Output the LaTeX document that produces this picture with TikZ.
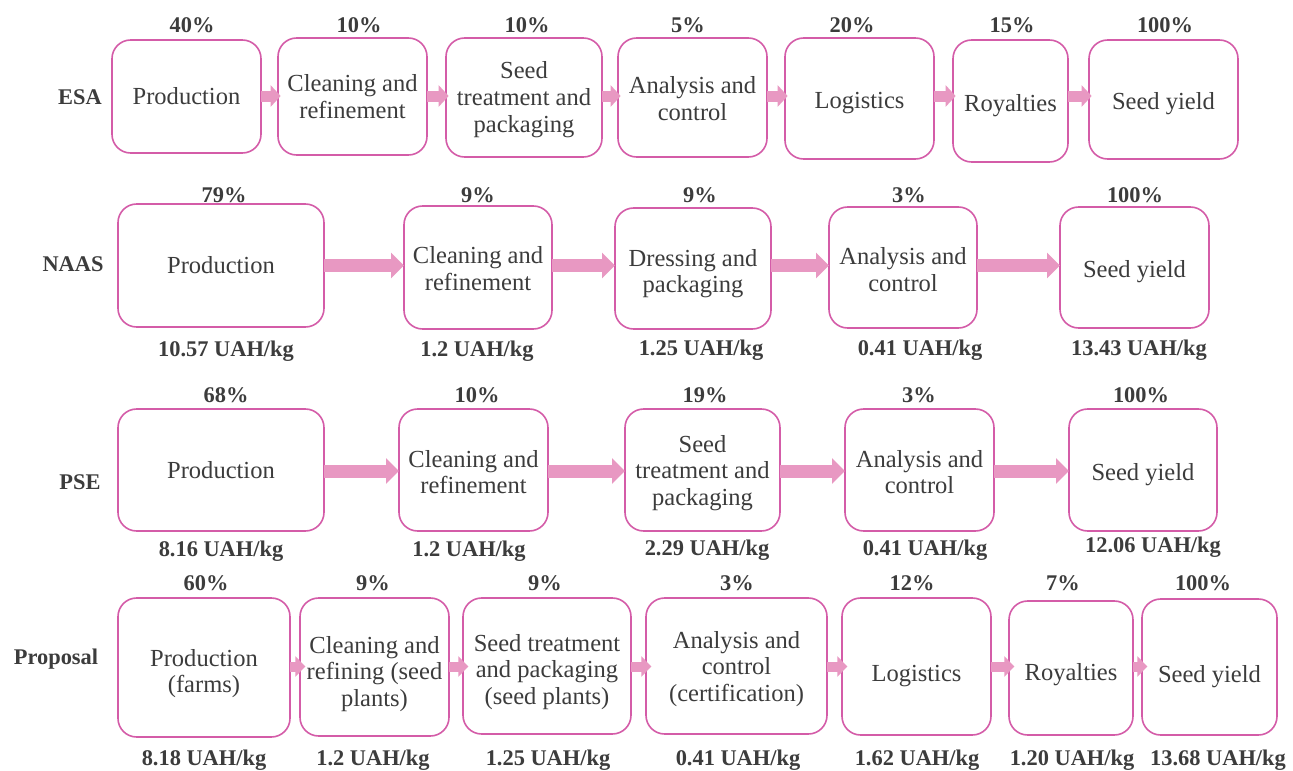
\documentclass[tikz,border=0pt]{standalone}
\usepackage{fontspec}
\setmainfont{Liberation Serif}
\usetikzlibrary{arrows.meta}
\definecolor{bord}{RGB}{212,92,168}
\definecolor{arrc}{RGB}{232,152,194}
\definecolor{txt}{RGB}{60,60,60}
% #1 name, #2-#5 box corners (px), #6 text, #7 downward text offset (px)
\newcommand\bx[7]{%
  \node[stagebox, minimum width={(#4-#2)*0.75pt}, minimum height={(#5-#3)*0.75pt}] (#1) at ({(#2+#4)/2},{(#3+#5)/2}) {};
  \node[stagetext] (#1t) at ([yshift={-(#7)*0.75pt}]#1.center) {#6};}
\tikzset{
  stagebox/.style={draw=bord, line width=1.2pt, rounded corners=14pt, inner sep=0pt, outer sep=0pt},
  stagetext/.style={inner sep=0pt, align=center, text=txt, font=\fontsize{18.4}{20}\selectfont},
  lab/.style={text=txt, font=\fontsize{16.8}{18}\selectfont\bfseries, inner sep=0pt},
  arrS/.style={draw=arrc, line width=8.25pt, -{Triangle[length=7.5pt,width=15.75pt]}, shorten >=-2pt},
  arrL/.style={draw=arrc, line width=9.75pt, -{Triangle[length=9.75pt,width=18.75pt]}},
  arrP/.style={draw=arrc, line width=7.5pt, -{Triangle[length=7.5pt,width=15pt]}, shorten >=-4pt},
}
\begin{document}
\begin{tikzpicture}[x=0.75pt,y=-0.75pt]
\fill[white] (0,0) rectangle (1293,771);
\useasboundingbox (0,0) rectangle (1293,771);
% ---------------- ESA
\node[lab] (esa) at (80,97) {ESA};
\bx{e1}{112}{40}{261}{153}{Production}{0}
\bx{e2}{278}{38}{427}{155}{Cleaning and\\refinement}{0}
\bx{e3}{446}{38}{602}{157}{Seed\\treatment and\\packaging}{2}
\bx{e4}{618}{38}{767}{157}{Analysis and\\control}{1}
\bx{e5}{785}{38}{934}{159}{Logistics}{5}
\bx{e6}{953}{40}{1068}{162}{Royalties}{5}
\bx{e7}{1089}{40}{1238}{159}{Seed yield}{4}
\node[lab] (e1p) at (192,25) {40\%};
\node[lab] (e2p) at (359,25) {10\%};
\node[lab] (e3p) at (527,25) {10\%};
\node[lab] (e4p) at (688,25) {5\%};
\node[lab] (e5p) at (852,25) {20\%};
\node[lab] (e6p) at (1012,25) {15\%};
\node[lab] (e7p) at (1165,25) {100\%};
\coordinate (ey) at (0,96);
\draw[arrS] (e1.east |- ey) -- (e2.west |- ey);
\draw[arrS] (e2.east |- ey) -- (e3.west |- ey);
\draw[arrS] (e3.east |- ey) -- (e4.west |- ey);
\draw[arrS] (e4.east |- ey) -- (e5.west |- ey);
\draw[arrS] (e5.east |- ey) -- (e6.west |- ey);
\draw[arrS] (e6.east |- ey) -- (e7.west |- ey);
% ---------------- NAAS
\node[lab] (naas) at (73,264) {NAAS};
\bx{n1}{118}{204}{324}{327}{Production}{0}
\bx{n2}{404}{206}{552}{329}{Cleaning and\\refinement}{1}
\bx{n3}{615}{208}{771}{329}{Dressing and\\packaging}{5}
\bx{n4}{829}{207}{977}{328}{Analysis and\\control}{2}
\bx{n5}{1060}{207}{1209}{328}{Seed yield}{4}
\node[lab] (n1p) at (224,195) {79\%};
\node[lab] (n2p) at (478,195) {9\%};
\node[lab] (n3p) at (700,195) {9\%};
\node[lab] (n4p) at (909,195) {3\%};
\node[lab] (n5p) at (1135,195) {100\%};
\node[lab] (n1c) at (226,351) {10.57 UAH/kg};
\node[lab] (n2c) at (477,351) {1.2 UAH/kg};
\node[lab] (n3c) at (701,350) {1.25 UAH/kg};
\node[lab] (n4c) at (920,350) {0.41 UAH/kg};
\node[lab] (n5c) at (1139,350) {13.43 UAH/kg};
\coordinate (ny) at (0,265.5);
\draw[arrL] (n1.east |- ny) -- (n2.west |- ny);
\draw[arrL] (n2.east |- ny) -- (n3.west |- ny);
\draw[arrL] (n3.east |- ny) -- (n4.west |- ny);
\draw[arrL] (n4.east |- ny) -- (n5.west |- ny);
% ---------------- PSE
\node[lab] (pse) at (80,482) {PSE};
\bx{p1}{118}{409}{324}{531}{Production}{0}
\bx{p2}{399}{409}{548}{531}{Cleaning and\\refinement}{2}
\bx{p3}{625}{409}{780}{531}{Seed\\treatment and\\packaging}{3}
\bx{p4}{845}{409}{994}{531}{Analysis and\\control}{2}
\bx{p5}{1069}{409}{1217}{531}{Seed yield}{5}
\node[lab] (p1p) at (226,395) {68\%};
\node[lab] (p2p) at (477,395) {10\%};
\node[lab] (p3p) at (705,395) {19\%};
\node[lab] (p4p) at (919,395) {3\%};
\node[lab] (p5p) at (1141,395) {100\%};
\node[lab] (p1c) at (221,551) {8.16 UAH/kg};
\node[lab] (p2c) at (469,551) {1.2 UAH/kg};
\node[lab] (p3c) at (707,550) {2.29 UAH/kg};
\node[lab] (p4c) at (925,550) {0.41 UAH/kg};
\node[lab] (p5c) at (1153,547) {12.06 UAH/kg};
\coordinate (py) at (0,471);
\draw[arrL] (p1.east |- py) -- (p2.west |- py);
\draw[arrL] (p2.east |- py) -- (p3.west |- py);
\draw[arrL] (p3.east |- py) -- (p4.west |- py);
\draw[arrL] (p4.east |- py) -- (p5.west |- py);
% ---------------- Proposal
\node[lab] (prop) at (56,659) {Proposal};
\bx{r1}{118}{598}{290}{737}{Production\\(farms)}{6}
\bx{r2}{300}{598}{449}{736}{Cleaning and\\refining (seed\\plants)}{7}
\bx{r3}{463}{598}{631}{734}{Seed treatment\\and packaging\\(seed plants)}{6}
\bx{r4}{646}{598}{827}{734}{Analysis and\\control\\(certification)}{3}
\bx{r5}{842}{598}{991}{735}{Logistics}{10}
\bx{r6}{1009}{601}{1133}{735}{Royalties}{7}
\bx{r7}{1142}{599}{1277}{735}{Seed yield}{10}
\node[lab] (r1p) at (206,583) {60\%};
\node[lab] (r2p) at (373,583) {9\%};
\node[lab] (r3p) at (545,583) {9\%};
\node[lab] (r4p) at (737,583) {3\%};
\node[lab] (r5p) at (912,583) {12\%};
\node[lab] (r6p) at (1063,583) {7\%};
\node[lab] (r7p) at (1203,583) {100\%};
\node[lab] (r1c) at (204,760) {8.18 UAH/kg};
\node[lab] (r2c) at (373,760) {1.2 UAH/kg};
\node[lab] (r3c) at (548,760) {1.25 UAH/kg};
\node[lab] (r4c) at (738,760) {0.41 UAH/kg};
\node[lab] (r5c) at (917,760) {1.62 UAH/kg};
\node[lab] (r6c) at (1072,760) {1.20 UAH/kg};
\node[lab] (r7c) at (1218,760) {13.68 UAH/kg};
\coordinate (ry) at (0,666.5);
\draw[arrP] (r1.east |- ry) -- (r2.west |- ry);
\draw[arrP] (r2.east |- ry) -- (r3.west |- ry);
\draw[arrP] (r3.east |- ry) -- (r4.west |- ry);
\draw[arrP] (r4.east |- ry) -- (r5.west |- ry);
\draw[arrP] (r5.east |- ry) -- (r6.west |- ry);
\draw[arrP] (r6.east |- ry) -- (r7.west |- ry);
\end{tikzpicture}
\end{document}
